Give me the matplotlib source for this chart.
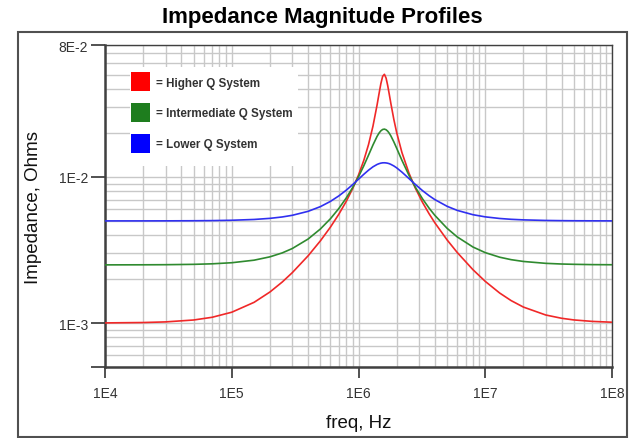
import matplotlib
matplotlib.use("Agg")
import matplotlib.pyplot as plt
from matplotlib.patches import Patch, Rectangle
from matplotlib.ticker import FixedLocator, LogLocator, NullFormatter

plt.rcParams["font.family"] = ["Liberation Sans", "DejaVu Sans"]

# values (Hz, Ohms)
freq_hz = [1e4, 2e4, 3e4, 5e4, 7e4, 1e5, 1.5e5, 2e5, 2.5e5, 3e5, 4e5, 5e5,
           6e5, 7e5, 8e5, 9e5, 1e6, 1.1e6, 1.2e6, 1.3e6, 1.4e6, 1.45e6,
           1.5e6, 1.55e6, 1.6e6, 1.65e6, 1.7e6, 1.75e6, 1.8e6, 1.9e6, 2e6,
           2.2e6, 2.5e6, 2.8e6, 3.2e6, 3.6e6, 4e6, 5e6, 6e6, 8e6, 1e7,
           1.3e7, 1.6e7, 2e7, 3e7, 4e7, 5e7, 7e7, 1e8]
z_high_q = [1.002e-3, 1.008e-3, 1.018e-3, 1.049e-3, 1.095e-3, 1.186e-3,
            1.386e-3, 1.631e-3, 1.908e-3, 2.211e-3, 2.884e-3, 3.651e-3,
            4.532e-3, 5.565e-3, 6.805e-3, 8.341e-3, 1.031e-2, 1.296e-2,
            1.669e-2, 2.227e-2, 3.101e-2, 3.693e-2, 4.344e-2, 4.882e-2,
            5.043e-2, 4.750e-2, 4.216e-2, 3.661e-2, 3.181e-2, 2.474e-2,
            2.012e-2, 1.470e-2, 1.062e-2, 8.422e-3, 6.691e-3, 5.606e-3,
            4.856e-3, 3.705e-3, 3.045e-3, 2.317e-3, 1.928e-3, 1.604e-3,
            1.424e-3, 1.286e-3, 1.135e-3, 1.078e-3, 1.050e-3, 1.026e-3,
            1.013e-3]
z_mid_q = [2.501e-3, 2.504e-3, 2.508e-3, 2.522e-3, 2.543e-3, 2.587e-3,
           2.693e-3, 2.839e-3, 3.020e-3, 3.235e-3, 3.758e-3, 4.402e-3,
           5.173e-3, 6.088e-3, 7.176e-3, 8.477e-3, 1.004e-2, 1.191e-2,
           1.411e-2, 1.655e-2, 1.893e-2, 1.993e-2, 2.068e-2, 2.113e-2,
           2.125e-2, 2.104e-2, 2.056e-2, 1.988e-2, 1.909e-2, 1.737e-2,
           1.572e-2, 1.300e-2, 1.027e-2, 8.543e-3, 7.077e-3, 6.124e-3,
           5.460e-3, 4.449e-3, 3.890e-3, 3.313e-3, 3.033e-3, 2.822e-3,
           2.715e-3, 2.639e-3, 2.562e-3, 2.535e-3, 2.523e-3, 2.511e-3,
           2.506e-3]
z_low_q = [5.001e-3, 5.002e-3, 5.005e-3, 5.013e-3, 5.025e-3, 5.052e-3,
           5.116e-3, 5.206e-3, 5.322e-3, 5.462e-3, 5.815e-3, 6.262e-3,
           6.800e-3, 7.422e-3, 8.117e-3, 8.868e-3, 9.648e-3, 1.042e-2,
           1.113e-2, 1.173e-2, 1.217e-2, 1.232e-2, 1.243e-2, 1.249e-2,
           1.250e-2, 1.247e-2, 1.241e-2, 1.232e-2, 1.219e-2, 1.189e-2,
           1.154e-2, 1.079e-2, 9.751e-3, 8.904e-3, 8.056e-3, 7.446e-3,
           6.998e-3, 6.295e-3, 5.906e-3, 5.514e-3, 5.330e-3, 5.196e-3,
           5.129e-3, 5.083e-3, 5.037e-3, 5.021e-3, 5.013e-3, 5.007e-3,
           5.003e-3]

series_labels = ["= Higher Q System", "= Intermediate Q System", "= Lower Q System"]
x_ticks = [1e4, 1e5, 1e6, 1e7, 1e8]
x_tick_labels = ["1E4", "1E5", "1E6", "1E7", "1E8"]
y_ticks = [5e-4, 1e-3, 1e-2, 8e-2]
y_tick_labels = ["", "1E-3", "1E-2", "8E-2"]

line_colors = ["#f02828", "#2f8a2f", "#3030f0"]
patch_colors = ["#ff0000", "#1e7d1e", "#0000ff"]
text_color = "#333333"

fig = plt.figure(figsize=(6.35, 4.39), dpi=100)
ax = fig.add_axes([0.1654, 0.1617, 0.7984, 0.7335])

for z, c in zip([z_high_q, z_mid_q, z_low_q], line_colors):
    ax.plot(freq_hz, z, color=c, lw=1.2, zorder=3)

ax.set_xscale("log")
ax.set_yscale("log")
ax.set_xlim(1e4, 1e8)
ax.set_ylim(5e-4, 8e-2)

ax.xaxis.set_major_locator(FixedLocator(x_ticks))
ax.set_xticklabels(x_tick_labels)
ax.yaxis.set_major_locator(FixedLocator(y_ticks))
ax.set_yticklabels(y_tick_labels)
for axis in (ax.xaxis, ax.yaxis):
    axis.set_minor_locator(LogLocator(base=10, subs=range(2, 10), numticks=20))
    axis.set_minor_formatter(NullFormatter())

ax.grid(True, which="both", color="#c8c8c8", lw=1.0)
ax.tick_params(which="minor", length=0)
ax.tick_params(axis="x", which="major", length=8, width=1.2, color="#333333",
               pad=6, labelsize=10, labelcolor=text_color)
ax.tick_params(axis="y", which="major", length=10, width=1.2, color="#333333",
               pad=2, labelsize=10, labelcolor=text_color)

for side, sp in ax.spines.items():
    sp.set_color("#404040")
    sp.set_linewidth(1.8 if side in ("left", "bottom") else 1.0)

ax.set_xlabel("freq, Hz", fontsize=13.5, color="#111111", labelpad=10)
ax.set_ylabel("Impedance, Ohms", fontsize=13.5, color="#111111", labelpad=12)
fig.suptitle("Impedance Magnitude Profiles", fontsize=16, fontweight="bold",
             x=0.507, y=0.985, va="top")

# white box behind the legend hides the grid
ax.add_patch(Rectangle((0.049, 0.624), 0.332, 0.308, transform=ax.transAxes,
                       facecolor="white", edgecolor="none", zorder=1.8))
handles = [Patch(facecolor=c, edgecolor="none") for c in patch_colors]
leg = ax.legend(handles, series_labels, loc="upper left",
                bbox_to_anchor=(0.052, 0.915), frameon=False, borderpad=0,
                borderaxespad=0, handlelength=1.63, handleheight=2.13,
                handletextpad=0.5, labelspacing=1.0,
                prop={"size": 8.4, "weight": "bold"})
for t in leg.get_texts():
    t.set_color(text_color)

# outer frame around the whole chart
fig.add_artist(Rectangle((0.0283, 0.003), 0.959, 0.922, transform=fig.transFigure,
                         fill=False, edgecolor="#505050", lw=1.5))

fig.savefig("out.png", dpi=100)
